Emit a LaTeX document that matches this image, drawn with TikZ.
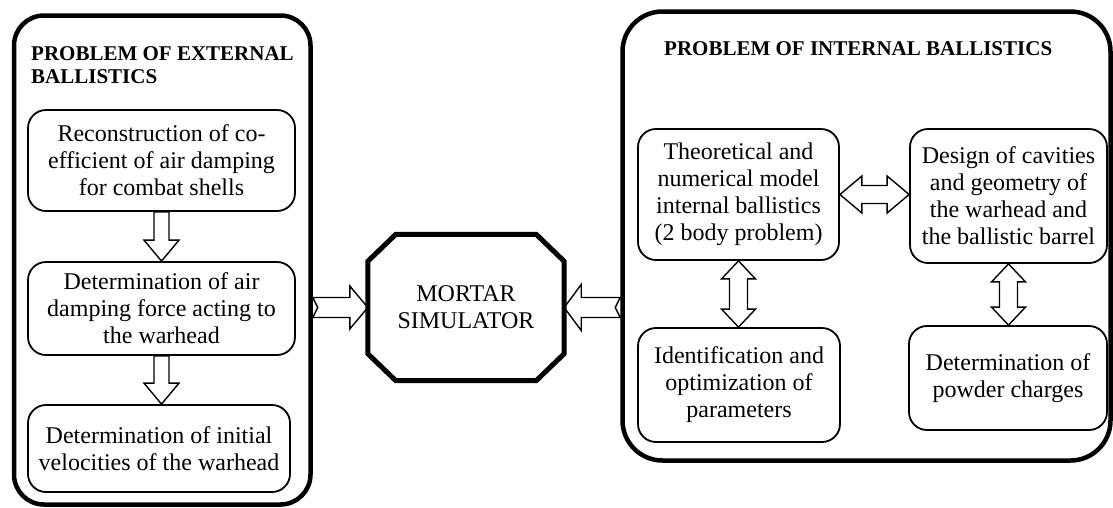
\documentclass[tikz,border=0pt]{standalone}
\usepackage{fontspec}
\setmainfont{Liberation Serif}
\usetikzlibrary{calc}

\tikzset{
  fat shaft/.store in=\fatshaft, fat head/.store in=\fathead,
  fat len/.store in=\fatlen, fat notch/.store in=\fatnotch,
  fat shaft=8pt, fat head=18pt, fat len=20pt, fat notch=0pt,
  fat/.style={line width=1.4pt, to path={
    ($(\tikztostart)!\fatshaft!90:(\tikztotarget)$)
    -- ($($(\tikztotarget)!\fatlen!(\tikztostart)$)!\fatshaft!90:(\tikztotarget)$)
    -- ($($(\tikztotarget)!\fatlen!(\tikztostart)$)!\fathead!90:(\tikztotarget)$)
    -- (\tikztotarget)
    -- ($($(\tikztotarget)!\fatlen!(\tikztostart)$)!\fathead!-90:(\tikztotarget)$)
    -- ($($(\tikztotarget)!\fatlen!(\tikztostart)$)!\fatshaft!-90:(\tikztotarget)$)
    -- ($(\tikztostart)!\fatshaft!-90:(\tikztotarget)$)
    -- ($(\tikztostart)!\fatnotch!(\tikztotarget)$) -- cycle}},
  fatboth/.style={line width=1.4pt, to path={
    (\tikztostart)
    -- ($($(\tikztostart)!\fatlen!(\tikztotarget)$)!\fathead!90:(\tikztotarget)$)
    -- ($($(\tikztostart)!\fatlen!(\tikztotarget)$)!\fatshaft!90:(\tikztotarget)$)
    -- ($($(\tikztotarget)!\fatlen!(\tikztostart)$)!\fatshaft!90:(\tikztotarget)$)
    -- ($($(\tikztotarget)!\fatlen!(\tikztostart)$)!\fathead!90:(\tikztotarget)$)
    -- (\tikztotarget)
    -- ($($(\tikztotarget)!\fatlen!(\tikztostart)$)!\fathead!-90:(\tikztotarget)$)
    -- ($($(\tikztotarget)!\fatlen!(\tikztostart)$)!\fatshaft!-90:(\tikztotarget)$)
    -- ($($(\tikztostart)!\fatlen!(\tikztotarget)$)!\fatshaft!-90:(\tikztotarget)$)
    -- ($($(\tikztostart)!\fatlen!(\tikztotarget)$)!\fathead!-90:(\tikztotarget)$)
    -- cycle}},
  title/.style={font=\fontsize{21}{23}\bfseries, inner sep=0pt, anchor=north west, align=left},
}

\begin{document}
\begin{tikzpicture}[x=1pt,y=-1pt]
\useasboundingbox (0,0) rectangle (1113,507);

% the two problem frames
\begin{scope}[every node/.style={draw,line width=4.5pt,rounded corners=30pt}]
    \node[minimum width=296.5pt,minimum height=489pt] (extL) at (162.25,260) {};
    \node[minimum width=488pt,minimum height=449pt,rounded corners=40pt] (intL) at (866.5,236) {};
\end{scope}

\node[title] (extT) at (31,46.5) {PROBLEM OF EXTERNAL\\BALLISTICS};
\node[title] (intT) at (664,41.5) {PROBLEM OF INTERNAL BALLISTICS};

\begin{scope}[every node/.style={draw,line width=1.8pt,rounded corners=18pt,align=center,font=\fontsize{24}{27}\selectfont}]
    \node[minimum width=267pt,minimum height=101pt] (rec) at (161.5,160.5) {Reconstruction of co-\\efficient of air damping\\for combat shells};
    \node[minimum width=267pt,minimum height=93pt] (drag) at (161.5,308.5) {Determination of air\\damping force acting to\\the warhead};
    \node[minimum width=262pt,minimum height=87pt] (vel) at (159,448.5) {Determination of initial\\velocities of the warhead};

    \node[minimum width=201pt,minimum height=131pt] (model) at (738.5,194.5) {Theoretical and\\numerical model\\internal ballistics\\(2 body problem)};
    \node[minimum width=197pt,minimum height=134pt] (design) at (1008.5,196) {Design of cavities\\and geometry of\\the warhead and\\the ballistic barrel};
    \node[minimum width=202pt,minimum height=114pt] (ident) at (739,385) {Identification and\\optimization of\\parameters};
    \node[minimum width=198pt,minimum height=104pt] (powder) at (1008,378) {Determination of\\powder charges};
\end{scope}

% mortar simulator (octagon)
\node[align=center,font=\fontsize{24}{27}\selectfont,minimum width=196pt,minimum height=146pt] (sim) at (466,307.5) {MORTAR\\SIMULATOR};
\draw[line width=5pt] ($(sim.north west)+(28,0)$) -- ($(sim.north east)+(-28,0)$) -- ($(sim.north east)+(0,27)$)
    -- ($(sim.south east)+(0,-27)$) -- ($(sim.south east)+(-28,0)$) -- ($(sim.south west)+(28,0)$)
    -- ($(sim.south west)+(0,-27)$) -- ($(sim.north west)+(0,27)$) -- cycle;

% block arrows
\draw[fat,fat shaft=7.5pt,fat head=17.5pt,fat len=21pt] (rec.south) to (rec.south |- drag.north);
\draw[fat,fat shaft=7.5pt,fat head=17.5pt,fat len=21pt] (drag.south) to (drag.south |- vel.north);
\draw[fat,fat shaft=10pt,fat head=21.5pt,fat len=18pt,fat notch=5pt] (sim.west -| extL.east) to (sim.west);
\draw[fat,fat shaft=10pt,fat head=23pt,fat len=17pt,fat notch=5pt] (sim.east -| intL.west) to (sim.east);
\draw[fatboth,fat shaft=9pt,fat head=18.5pt,fat len=22pt] (model.east) to (model.east -| design.west);
\draw[fatboth,fat shaft=9pt,fat head=17pt,fat len=18pt] (model.south) to (model.south |- ident.north);
\draw[fatboth,fat shaft=9pt,fat head=17pt,fat len=18pt] (design.south) to (design.south |- powder.north);
\end{tikzpicture}
\end{document}
